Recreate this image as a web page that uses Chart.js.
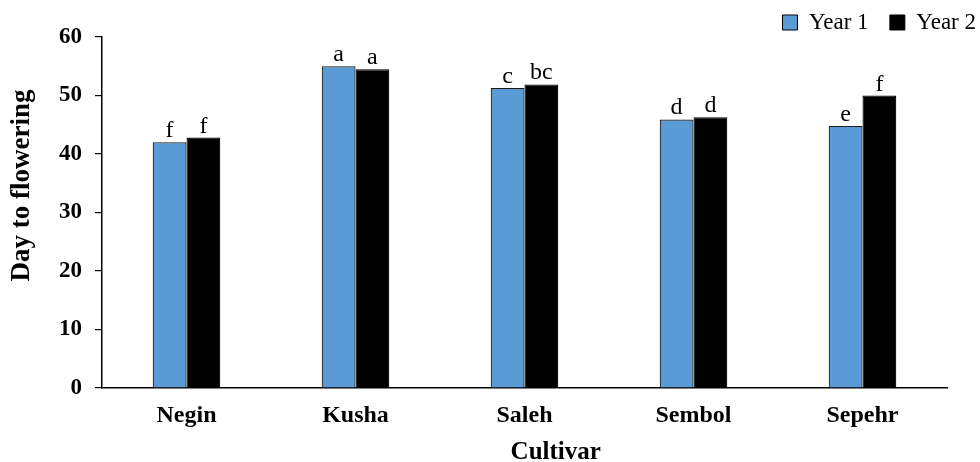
<!DOCTYPE html>
<html>
<head>
<meta charset="utf-8">
<script src="https://cdn.jsdelivr.net/npm/chart.js@4.4.1/dist/chart.umd.min.js"></script>
<style>
  html, body { margin: 0; padding: 0; background: #fff; }
  #wrap { width: 980px; height: 462px; }
</style>
</head>
<body>
<div id="wrap"><canvas id="chart" width="980" height="462"></canvas></div>
<script>
// Days from sowing to flowering for five cultivars over two seasons
const cultivars = ['Negin', 'Kusha', 'Saleh', 'Sembol', 'Sepehr'];
const year1 = [42.0, 55.0, 51.3, 45.9, 44.8];
const year2 = [42.8, 54.5, 51.9, 46.3, 50.0];
// Mean-separation letters shown above each bar
const year1Letters = ['f', 'a', 'c', 'd', 'e'];
const year2Letters = ['f', 'a', 'bc', 'd', 'f'];
const yTicks = [0, 10, 20, 30, 40, 50, 60];

const serif = "'Liberation Serif', 'Times New Roman', serif";

const letterPlugin = {
  id: 'letters',
  afterDatasetsDraw(chart) {
    const ctx = chart.ctx;
    ctx.save();
    ctx.font = '24px ' + serif;
    ctx.fillStyle = '#000';
    ctx.textAlign = 'center';
    ctx.textBaseline = 'alphabetic';
    const sets = [year1Letters, year2Letters];
    chart.data.datasets.forEach((ds, di) => {
      const meta = chart.getDatasetMeta(di);
      meta.data.forEach((bar, i) => {
        ctx.fillText(sets[di][i], bar.x, bar.y - 5);
      });
    });
    ctx.restore();
  }
};

new Chart(document.getElementById('chart'), {
  type: 'bar',
  data: {
    labels: cultivars,
    datasets: [
      { label: 'Year 1', data: year1, yAxisID: 'y', backgroundColor: '#5B9BD5', borderColor: '#1a1a1a', borderWidth: 1.2 },
      { label: 'Year 2', data: year2, yAxisID: 'y', backgroundColor: '#000000', borderColor: '#000000', borderWidth: 1.2 }
    ]
  },
  options: {
    responsive: false,
    animation: false,
    layout: { padding: { left: 9, right: 0, top: 7, bottom: -3 } },
    datasets: { bar: { categoryPercentage: 0.40, barPercentage: 1.0 } },
    plugins: {
      tooltip: { enabled: false },
      legend: {
        position: 'top',
        align: 'end',
        maxHeight: 30,
        labels: {
          color: '#000',
          font: { family: serif, size: 23, lineHeight: 1 },
          boxWidth: 15,
          boxHeight: 15,
          padding: 4,
          generateLabels(chart) {
            // trailing gap keeps the two entries apart
            return chart.data.datasets.map((ds, i) => ({
              text: i === 0 ? ds.label + '   ' : ds.label,
              fillStyle: ds.backgroundColor,
              strokeStyle: '#000',
              lineWidth: 1,
              datasetIndex: i,
              fontColor: '#000'
            }));
          }
        }
      }
    },
    scales: {
      x: {
        grid: { display: false, drawTicks: false, tickLength: 0 },
        border: { display: true, color: '#000', width: 1.5 },
        ticks: { color: '#000', font: { family: serif, size: 24, weight: 'bold', lineHeight: 1 }, padding: 16 },
        // leading gap nudges the axis title right of the plot middle
        title: { display: true, text: '          Cultivar', color: '#000', font: { family: serif, size: 25, weight: 'bold', lineHeight: 1 }, padding: { top: -4, bottom: 0 } }
      },
      y: {
        position: 'left',
        min: 0,
        max: 60,
        afterBuildTicks(scale) { scale.ticks = yTicks.map(v => ({ value: v })); },
        grid: { display: true, drawOnChartArea: false, drawTicks: true, tickLength: 7, color: '#000', lineWidth: 1.2 },
        border: { display: true, color: '#000', width: 1.5 },
        ticks: { color: '#000', font: { family: serif, size: 23, weight: 'bold', lineHeight: 1 }, padding: 13 },
        // leading gap lifts the rotated title a little above the axis middle
        title: { display: true, text: '        Day to flowering', color: '#000', font: { family: serif, size: 27, weight: 'bold', lineHeight: 1 }, padding: { top: 0, bottom: 10 } }
      },
      // empty margin on the right so the plot ends short of the legend's edge
      yPad: {
        type: 'linear',
        position: 'right',
        display: true,
        grid: { display: false, drawTicks: false },
        border: { display: false },
        ticks: { display: false },
        afterFit(scale) { scale.width = 33; }
      }
    }
  },
  plugins: [letterPlugin]
});
</script>
</body>
</html>
